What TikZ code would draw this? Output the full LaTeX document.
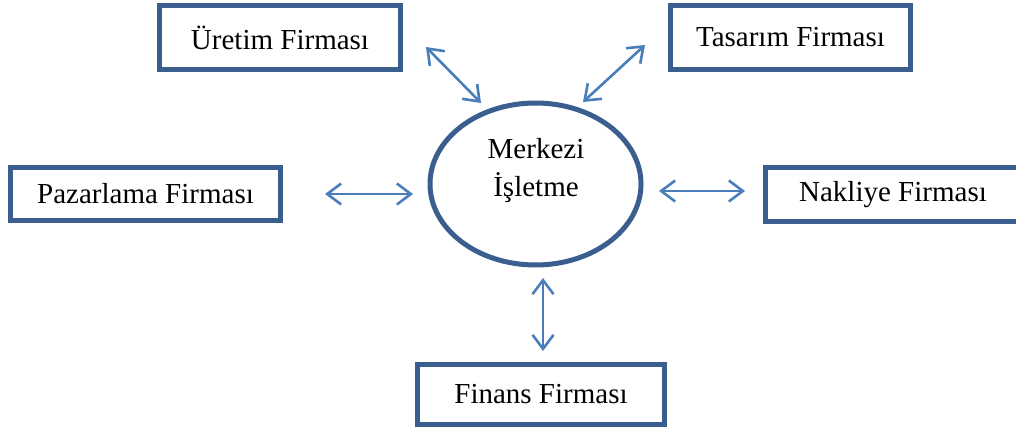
\documentclass[tikz,border=0pt]{standalone}
\usepackage{fontspec}
\setmainfont{Liberation Serif}
\usetikzlibrary{arrows.meta,shapes.geometric}
\definecolor{boxblue}{HTML}{3A5F8E}
\definecolor{arrowblue}{HTML}{4A7EBB}
\tikzset{
  firm/.style={draw=boxblue, line width=5pt, rectangle, inner sep=0pt,
    font=\fontsize{29}{34}\selectfont},
  hub/.style={draw=boxblue, line width=5pt, ellipse, inner sep=0pt},
  link/.style={draw=arrowblue, line width=2.6pt,
    {Straight Barb[length=14pt,width=21pt,line width=2.6pt]}-{Straight Barb[length=14pt,width=21pt,line width=2.6pt]}}
}
\begin{document}
\begin{tikzpicture}[x=1pt,y=-1pt]
  \useasboundingbox (0,0) rectangle (1016,430);
  \clip (0,0) rectangle (1016,430);

  % central enterprise
  \node[hub, minimum width=211pt, minimum height=162pt] (merkez) at (535.5,184) {};
  \node[font=\fontsize{29}{38}\selectfont, align=center] (merkeztext) at (536,171) {Merkezi\\İşletme};

  % partner firms
  \node[firm, minimum width=241pt, minimum height=64pt] (uretim) at (280,37.5) {Üretim Firması};
  \node[firm, minimum width=240pt, minimum height=64pt] (tasarim) at (790.5,37.5) {Tasarım Firması};
  \node[firm, minimum width=270pt, minimum height=53pt] (pazarlama) at (145.5,194) {Pazarlama Firması};
  \node[firm, minimum width=255pt, minimum height=54pt] (nakliye) at (893,194.5) {Nakliye Firması};
  \node[firm, minimum width=247pt, minimum height=60pt] (finans) at (541,394.5) {Finans Firması};

  % arrow end points
  \coordinate (u1) at (426,47);   \coordinate (u2) at (481,103);
  \coordinate (t1) at (645,45);   \coordinate (t2) at (583,102);
  \coordinate (p1) at (325,194);  \coordinate (p2) at (413,194);
  \coordinate (n1) at (659,191);  \coordinate (n2) at (745,191);
  \coordinate (f1) at (543,278);  \coordinate (f2) at (543,351);

  \draw[link] (u1) -- (u2);
  \draw[link] (t1) -- (t2);
  \draw[link] (p1) -- (p2);
  \draw[link] (n1) -- (n2);
  \draw[link] (f1) -- (f2);
\end{tikzpicture}
\end{document}
